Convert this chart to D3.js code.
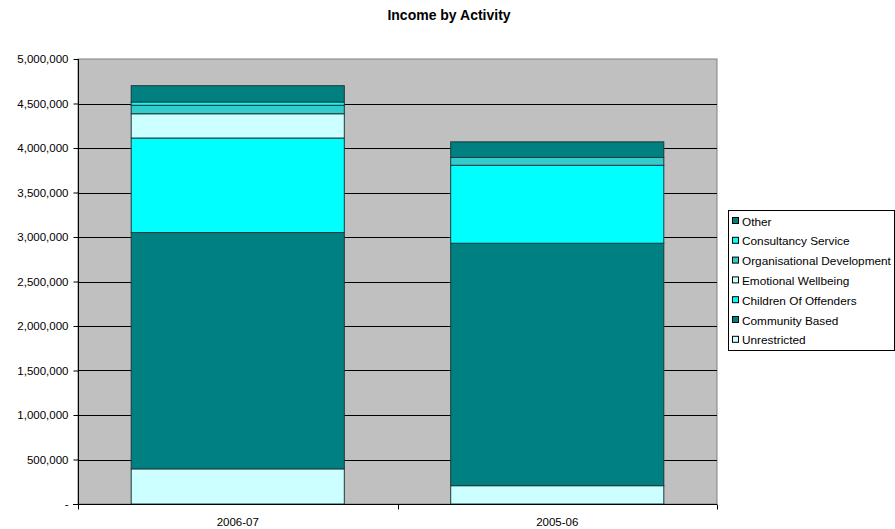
<!DOCTYPE html>
<html><head><meta charset="utf-8">
<script src="https://cdn.jsdelivr.net/npm/d3@7"></script>
<style>body{margin:0;background:#fff;}svg{display:block;font-family:"Liberation Sans",Arial,sans-serif;}</style>
</head><body>
<svg id="chart" width="895" height="529"></svg>
<script>
const categories = ["2006-07", "2005-06"];
const seriesNames = ["Unrestricted", "Community Based", "Children Of Offenders", "Emotional Wellbeing", "Organisational Development", "Consultancy Service", "Other"];
const seriesColors = ["#CCFFFF", "#008080", "#00FFFF", "#CCFFFF", "#33CCCC", "#00FFFF", "#008080"];
const unrestricted = [395000, 206000];
const communityBased = [2655000, 2724000];
const childrenOfOffenders = [1062000, 876000];
const emotionalWellbeing = [273000, 0];
const organisationalDevelopment = [95000, 88000];
const consultancyService = [37000, 0];
const other = [183000, 175000];
const yTicks = [0, 500000, 1000000, 1500000, 2000000, 2500000, 3000000, 3500000, 4000000, 4500000, 5000000];

const seriesValues = [unrestricted, communityBased, childrenOfOffenders, emotionalWellbeing, organisationalDevelopment, consultancyService, other];
const rows = categories.map((c, i) => {
  const r = {cat: c};
  seriesNames.forEach((s, j) => r[s] = seriesValues[j][i]);
  return r;
});

const svg = d3.select("#chart");
const L = 78, R = 717, T = 59, B = 504;
const x = d3.scaleBand().domain(categories).range([L, R]).paddingInner(0.333).paddingOuter(0.1665);
const y = d3.scaleLinear().domain([0, 5000000]).range([B, T]);

// title
svg.append("text").attr("x", 449).attr("y", 20).attr("text-anchor", "middle")
  .attr("font-size", 14).attr("font-weight", "bold").text("Income by Activity");

// plot area
svg.append("rect").attr("x", L).attr("y", T).attr("width", R - L).attr("height", B - T)
  .attr("fill", "#C0C0C0").attr("stroke", "#808080").attr("stroke-width", 1);

// gridlines
svg.append("g").selectAll("line").data(yTicks.filter(d => d > 0 && d < 5000000)).join("line")
  .attr("x1", L).attr("x2", R).attr("y1", d => Math.round(y(d)) + 0.5).attr("y2", d => Math.round(y(d)) + 0.5)
  .attr("stroke", "#000").attr("stroke-width", 1);

// stacked bars
const stack = d3.stack().keys(seriesNames)(rows);
const g = svg.append("g");
stack.forEach((layer, j) => {
  g.selectAll(null).data(layer.filter(d => d[1] - d[0] > 0)).join("rect")
    .attr("x", d => x(d.data.cat)).attr("width", x.bandwidth())
    .attr("y", d => y(d[1])).attr("height", d => y(d[0]) - y(d[1]))
    .attr("fill", seriesColors[j]).attr("stroke", "#1a3a3a").attr("stroke-width", 1);
});

// y axis
const yAxis = d3.axisLeft(y).tickValues(yTicks).tickSize(5).tickPadding(5)
  .tickFormat(d => d === 0 ? "-" : d3.format(",")(d));
const ya = svg.append("g").attr("transform", `translate(${L + 0.5},0)`).call(yAxis);
ya.select(".domain").attr("stroke", "#000").attr("d", `M0,${T}V${B}`);
ya.selectAll(".tick line").attr("stroke", "#000");
ya.selectAll(".tick text").attr("font-size", 11.5).attr("fill", "#000").attr("font-family", "Liberation Sans, Arial, sans-serif");

// x axis
const xa = svg.append("g").attr("transform", `translate(0,${B + 0.5})`);
xa.append("line").attr("x1", L - 5).attr("x2", R).attr("stroke", "#000");
const boundaries = [L, (L + R) / 2, R];
xa.selectAll(".bt").data(boundaries).join("line").attr("x1", d => Math.round(d) + 0.5).attr("x2", d => Math.round(d) + 0.5)
  .attr("y1", 0).attr("y2", 5).attr("stroke", "#000");
xa.selectAll("text").data(categories).join("text")
  .attr("x", d => x(d) + x.bandwidth() / 2).attr("y", 21).attr("text-anchor", "middle")
  .attr("font-size", 11.5).attr("fill", "#000").text(d => d);

// legend
const lg = svg.append("g");
lg.append("rect").attr("x", 728.5).attr("y", 210.5).attr("width", 166).attr("height", 140)
  .attr("fill", "#fff").attr("stroke", "#000");
const legendItems = seriesNames.map((s, i) => ({name: s, color: seriesColors[i]})).reverse();
const li = lg.selectAll("g.it").data(legendItems).join("g")
  .attr("transform", (d, i) => `translate(732,${221 + i * 19.8})`);
li.append("rect").attr("x", 0.5).attr("y", -3.5).attr("width", 6).attr("height", 6)
  .attr("fill", d => d.color).attr("stroke", "#000");
li.append("text").attr("x", 10).attr("y", 4.5).attr("font-size", 11.8).attr("fill", "#000").text(d => d.name);
</script>
</body></html>
